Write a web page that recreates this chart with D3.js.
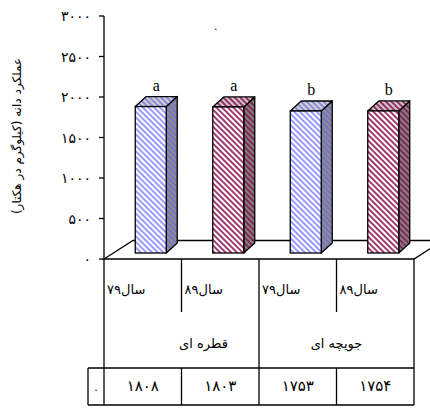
<!DOCTYPE html>
<html>
<head>
<meta charset="utf-8">
<style>
  body { margin: 0; background: #fff; }
  svg { display: block; }
  .fa { font-family: "DejaVu Sans", sans-serif; fill: #000; }
  .letter { font-family: "Liberation Serif", "Times New Roman", serif; font-size: 16px; text-anchor: middle; }
  .line { stroke: #000; stroke-width: 1.3; fill: none; }
</style>
</head>
<body>
<script src="https://cdn.jsdelivr.net/npm/d3@7/dist/d3.min.js"></script>
<script>
// ---- data ----
var years = ["سال۷۹", "سال۸۹", "سال۷۹", "سال۸۹"];
var methods = ["قطره ای", "جویچه ای"];
var yields = [1808, 1803, 1753, 1754];
var letters = ["a", "a", "b", "b"];
var yTicks = [0, 500, 1000, 1500, 2000, 2500, 3000];
var seriesOf = [0, 1, 0, 1];   // 0 = year 79 (blue), 1 = year 89 (red)
var yTitle = "عملکرد دانه (کیلوگرم در هکتار)";

// persian digits
function fa(n) {
  return String(n).replace(/\d/g, function(c) { return "۰۱۲۳۴۵۶۷۸۹"[+c]; });
}

var W = 430, H = 410,
    axisX = 104, right = 414,
    y0 = 259, yTop = 16,
    floorDx = 29, floorDy = -18.5,
    frontDx = 8, frontDy = -6,
    barW = 31, depthDx = 11, depthDy = -10,
    row1 = 312, row2 = 368, bottom = 405, tableLeft = 88;

var svg = d3.select("body").append("svg").attr("width", W).attr("height", H);

var x = d3.scaleBand().domain(d3.range(yields.length)).range([axisX, right]);
var y = d3.scaleLinear().domain([0, 3000]).range([y0, yTop]);

// patterns
var defs = svg.append("defs");
var pats = [
  {id: "b-front", bg: "#ffffff", fg: "#9a9aff"},
  {id: "b-top",   bg: "#d0d0dc", fg: "#8c8cd0"},
  {id: "b-side",  bg: "#8c8c9c", fg: "#7474bc"},
  {id: "r-front", bg: "#ffffff", fg: "#a03a70"},
  {id: "r-top",   bg: "#d4c4cc", fg: "#8e3464"},
  {id: "r-side",  bg: "#8c7c84", fg: "#7c2c54"}
];
pats.forEach(function(p) {
  var pat = defs.append("pattern")
      .attr("id", p.id)
      .attr("patternUnits", "userSpaceOnUse")
      .attr("width", 4).attr("height", 4)
      .attr("patternTransform", "rotate(-45)");
  pat.append("rect").attr("width", 4).attr("height", 4).attr("fill", p.bg);
  pat.append("rect").attr("width", 2).attr("height", 4).attr("fill", p.fg);
});

// floor
svg.append("path")
    .attr("class", "line")
    .attr("fill", "#fff")
    .attr("d", "M" + axisX + "," + y0 + "L" + right + "," + y0 +
               "L" + (right + floorDx) + "," + (y0 + floorDy) +
               "L" + (axisX + floorDx) + "," + (y0 + floorDy) + "Z");

// y axis line + ticks
svg.append("line").attr("class", "line")
    .attr("x1", axisX).attr("x2", axisX).attr("y1", y(3000)).attr("y2", bottom);

var tickG = svg.append("g");
tickG.selectAll("line").data(yTicks).enter().append("line")
    .attr("class", "line")
    .attr("x1", axisX - 5).attr("x2", axisX)
    .attr("y1", function(d) { return y(d); })
    .attr("y2", function(d) { return y(d); });
tickG.selectAll("text").data(yTicks).enter().append("text")
    .attr("class", "fa")
    .attr("x", axisX - 13)
    .attr("y", function(d) { return y(d) + 5; })
    .attr("text-anchor", "end")
    .style("font-size", "14px")
    .text(function(d) { return fa(d); });

svg.append("text")
    .attr("class", "fa")
    .attr("transform", "translate(21,136) rotate(-90)")
    .attr("text-anchor", "middle")
    .attr("direction", "rtl")
    .style("font-size", "12px")
    .text(yTitle);

// bars
var bars = svg.append("g").selectAll("g").data(yields).enter().append("g");
function bx(i) { return x(i) + (x.bandwidth() - barW) / 2 + frontDx; }
var base = y0 + frontDy;
bars.append("path")
    .attr("fill", function(d, i) { return seriesOf[i] ? "url(#r-side)" : "url(#b-side)"; })
    .attr("stroke", "#000").attr("stroke-width", 1.3).attr("stroke-linejoin", "round")
    .attr("d", function(d, i) {
      var l = bx(i) + barW, t = y(d) + frontDy;
      return "M" + l + "," + t + "L" + (l + depthDx) + "," + (t + depthDy) +
             "L" + (l + depthDx) + "," + (base + depthDy) + "L" + l + "," + base + "Z";
    });
bars.append("path")
    .attr("fill", function(d, i) { return seriesOf[i] ? "url(#r-top)" : "url(#b-top)"; })
    .attr("stroke", "#000").attr("stroke-width", 1.3).attr("stroke-linejoin", "round")
    .attr("d", function(d, i) {
      var l = bx(i), t = y(d) + frontDy;
      return "M" + l + "," + t + "L" + (l + barW) + "," + t +
             "L" + (l + barW + depthDx) + "," + (t + depthDy) +
             "L" + (l + depthDx) + "," + (t + depthDy) + "Z";
    });
bars.append("rect")
    .attr("fill", function(d, i) { return seriesOf[i] ? "url(#r-front)" : "url(#b-front)"; })
    .attr("stroke", "#000").attr("stroke-width", 1.3)
    .attr("x", function(d, i) { return bx(i); })
    .attr("y", function(d) { return y(d) + frontDy; })
    .attr("width", barW)
    .attr("height", function(d) { return base - (y(d) + frontDy); });

bars.append("text")
    .attr("class", "letter")
    .attr("x", function(d, i) { return bx(i) + (barW + depthDx) / 2; })
    .attr("y", function(d) { return y(d) + frontDy + depthDy - 6; })
    .text(function(d, i) { return letters[i]; });

// title dot
svg.append("text").attr("class", "fa").attr("x", 214).attr("y", 30)
    .style("font-size", "11px").text(".");

// data table
var t = svg.append("g");
[x(2), right].forEach(function(xx) {
  t.append("line").attr("class", "line")
      .attr("x1", xx).attr("x2", xx).attr("y1", y0).attr("y2", bottom);
});
[1, 3].forEach(function(i) {
  t.append("line").attr("class", "line")
      .attr("x1", x(i)).attr("x2", x(i)).attr("y1", y0).attr("y2", row1);
  t.append("line").attr("class", "line")
      .attr("x1", x(i)).attr("x2", x(i)).attr("y1", row2).attr("y2", bottom);
});
[row2, bottom].forEach(function(yy) {
  t.append("line").attr("class", "line")
      .attr("x1", tableLeft).attr("x2", right).attr("y1", yy).attr("y2", yy);
});
t.append("line").attr("class", "line")
    .attr("x1", tableLeft).attr("x2", tableLeft).attr("y1", row2).attr("y2", bottom);

t.selectAll(".yr").data(years).enter().append("text")
    .attr("class", "fa yr")
    .attr("x", function(d, i) { return x(i) + 3; })
    .attr("y", 294)
    .style("font-size", "13px")
    .text(function(d) { return d; });

t.selectAll(".mt").data(methods).enter().append("text")
    .attr("class", "fa mt")
    .attr("x", function(d, i) { return x(i * 2) + x.bandwidth() + (i === 0 ? 22 : 0); })
    .attr("y", 348)
    .attr("text-anchor", "middle")
    .attr("direction", "rtl")
    .style("font-size", "13px")
    .text(function(d) { return d; });

t.selectAll(".val").data(yields).enter().append("text")
    .attr("class", "fa val")
    .attr("x", function(d, i) { return x(i) + x.bandwidth() / 2; })
    .attr("y", 391)
    .attr("text-anchor", "middle")
    .style("font-size", "15px")
    .text(function(d) { return fa(d); });

t.append("text").attr("class", "fa").attr("x", 96).attr("y", 391)
    .attr("text-anchor", "middle").style("font-size", "11px").text(".");
</script>
</body>
</html>
